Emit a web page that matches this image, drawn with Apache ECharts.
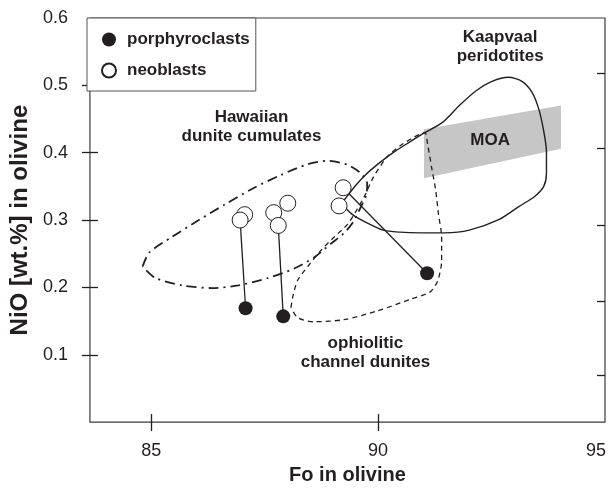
<!DOCTYPE html>
<html><head><meta charset="utf-8">
<script src="https://cdn.jsdelivr.net/npm/echarts@6/dist/echarts.min.js"></script>
<style>html,body{margin:0;padding:0;background:#fff}#c{width:609px;height:490px}</style>
</head><body><div id="c"></div>
<script>
// ---- axis ticks / labels ----
const xTickValues = [85, 90];
const xLabelValues = [85, 90, 95];
const yTickValues = [0.1, 0.2, 0.3, 0.4, 0.5];
const yLabelValues = [0.1, 0.2, 0.3, 0.4, 0.5, 0.6];
const rightTickValues = [0.070, 0.180, 0.293, 0.407, 0.518];

// ---- data points [Fo, NiO] ----
const porphyroclasts = [[87.08, 0.169], [87.91, 0.157], [91.08, 0.221]];
const neoblasts = [[87.06, 0.308], [86.96, 0.300], [87.70, 0.311], [88.01, 0.325], [87.80, 0.292], [89.23, 0.348], [89.14, 0.321]];
// tie lines: [neoblast index, porphyroclast index]
const tiePairs = [[1, 0], [4, 1], [5, 2]];

// ---- field outlines ----
const kaapvaal = [[89.20,0.325],[89.28,0.332],[89.50,0.351],[89.72,0.367],[90.05,0.386],[90.37,0.402],[90.70,0.416],[91.01,0.429],[91.42,0.445],[91.79,0.470],[92.16,0.492],[92.51,0.506],[92.88,0.512],[93.17,0.506],[93.39,0.490],[93.54,0.465],[93.65,0.432],[93.71,0.402],[93.71,0.369],[93.65,0.350],[93.45,0.335],[93.10,0.320],[92.67,0.301],[92.01,0.285],[91.47,0.281],[90.92,0.281],[90.48,0.282],[90.11,0.285],[89.72,0.297],[89.46,0.307],[89.28,0.318]];
const ophiolitic = [[88.08,0.170],[88.13,0.189],[88.23,0.211],[88.45,0.231],[88.74,0.255],[89.02,0.274],[89.33,0.294],[89.54,0.316],[89.72,0.338],[89.89,0.363],[90.20,0.394],[90.48,0.410],[90.79,0.423],[91.03,0.430],[91.09,0.413],[91.18,0.378],[91.27,0.344],[91.33,0.309],[91.40,0.275],[91.40,0.239],[91.31,0.209],[91.14,0.193],[90.70,0.182],[89.98,0.165],[89.24,0.152],[88.58,0.149],[88.23,0.155]];
const hawaiian = [[84.81,0.231],[84.96,0.252],[85.46,0.275],[86.05,0.300],[86.62,0.323],[87.27,0.348],[87.86,0.367],[88.45,0.383],[88.89,0.388],[89.33,0.382],[89.61,0.370],[89.76,0.354],[89.74,0.337],[89.61,0.318],[89.44,0.296],[89.24,0.280],[88.96,0.265],[88.58,0.244],[88.15,0.228],[87.58,0.214],[86.92,0.203],[86.34,0.199],[85.68,0.203],[85.09,0.214]];
const moa = [[91.01,0.435],[94.03,0.470],[94.03,0.406],[91.01,0.362]];

// ---- field names ----
const fieldNames = ['Kaapvaal\nperidotites', 'Hawaiian\ndunite cumulates', 'ophiolitic\nchannel dunites', 'MOA'];
const fieldPos = [[92.69, 0.5576], [87.21, 0.4383], [89.72, 0.1032], [92.47, 0.4185]];

const INK = '#231f20';
const FONT = "'Liberation Sans', Arial, Helvetica, sans-serif";
const closeRing = a => a.concat([a[0]]);
const tieData = tiePairs.map(([n, p]) => ({ coords: [neoblasts[n], porphyroclasts[p]] }));

const chart = echarts.init(document.getElementById('c'));
const tickStyle = { color: INK, width: 1.3 };
const baseX = { type: 'value', min: 83.65, max: 95, position: 'bottom', splitLine: { show: false }, axisLine: { show: false, onZero: false } };
const baseY = { type: 'value', min: 0, max: 0.6, splitLine: { show: false }, axisLine: { show: false, onZero: false } };

chart.setOption({
  animation: false,
  backgroundColor: '#fff',
  textStyle: { fontFamily: FONT },
  grid: { left: 87, top: 18, right: 2, bottom: 62, show: true, borderColor: '#3a3a3a', borderWidth: 1.2, backgroundColor: 'transparent' },
  legend: {
    data: ['porphyroclasts', 'neoblasts'],
    orient: 'vertical', left: 87, top: 18,
    padding: [13, 6, 12, 14], itemGap: 14,
    itemWidth: 14, itemHeight: 14,
    borderColor: '#555', borderWidth: 1, backgroundColor: '#fff',
    textStyle: { fontFamily: FONT, fontSize: 17, fontWeight: 'bold', color: INK, lineHeight: 17, padding: [0, 0, 0, 6] },
    selectedMode: false
  },
  xAxis: [
    Object.assign({}, baseX, {
      axisTick: { show: true, inside: false, length: 9, customValues: xTickValues, lineStyle: tickStyle },
      axisLabel: { customValues: xLabelValues, margin: 20, fontSize: 18, color: INK, fontFamily: FONT,
        formatter: v => v === 95 ? '{r|95}' : String(v), rich: { r: { fontSize: 18, color: INK, fontFamily: FONT, padding: [0, 18, 0, 0] } } },
      name: 'Fo in olivine', nameLocation: 'middle', nameGap: 39,
      nameTextStyle: { fontSize: 20, fontWeight: 'bold', color: INK, fontFamily: FONT }
    }),
    Object.assign({}, baseX, {
      axisTick: { show: true, inside: true, length: 8, customValues: xTickValues, lineStyle: tickStyle },
      axisLabel: { show: false }
    })
  ],
  yAxis: [
    Object.assign({}, baseY, {
      position: 'left',
      axisTick: { show: true, inside: false, length: 8, customValues: yTickValues, lineStyle: tickStyle },
      axisLabel: { customValues: yLabelValues, margin: 22, fontSize: 18, color: INK, fontFamily: FONT, formatter: v => v.toFixed(1) },
      name: 'NiO [wt.%] in olivine', nameLocation: 'middle', nameGap: 57,
      nameTextStyle: { fontSize: 24, fontWeight: 'bold', color: INK, fontFamily: FONT }
    }),
    Object.assign({}, baseY, {
      position: 'left',
      axisTick: { show: true, inside: true, length: 8, customValues: yTickValues, lineStyle: tickStyle },
      axisLabel: { show: false }
    }),
    Object.assign({}, baseY, {
      position: 'right',
      axisTick: { show: true, inside: true, length: 8, customValues: rightTickValues, lineStyle: tickStyle },
      axisLabel: { show: false }
    })
  ],
  series: [
    {
      type: 'custom', silent: true, z: 1,
      data: moa,
      encode: { x: 0, y: 1 },
      renderItem: (params, api) => {
        if (params.dataIndex !== 0) return null;
        return { type: 'polygon', shape: { points: moa.map(p => api.coord(p)) }, style: { fill: '#c6c6c6' } };
      }
    },
    { type: 'line', silent: true, z: 2, data: closeRing(kaapvaal), symbol: 'none', smooth: 0.25,
      lineStyle: { color: INK, width: 1.4, type: 'solid' } },
    { type: 'line', silent: true, z: 2, data: closeRing(ophiolitic), symbol: 'none', smooth: 0.25,
      lineStyle: { color: INK, width: 1.3, type: [5, 4] } },
    { type: 'line', silent: true, z: 2, data: closeRing(hawaiian), symbol: 'none', smooth: 0.25,
      lineStyle: { color: INK, width: 1.8, type: [10, 5, 2, 5] } },
    { type: 'lines', coordinateSystem: 'cartesian2d', silent: true, z: 3, data: tieData,
      lineStyle: { color: INK, width: 1.3, opacity: 1 } },
    { name: 'neoblasts', type: 'scatter', z: 4, data: neoblasts, symbol: 'circle', symbolSize: 16,
      itemStyle: { color: '#fff', borderColor: INK, borderWidth: 1, opacity: 1 } },
    { name: 'porphyroclasts', type: 'scatter', z: 5, data: porphyroclasts, symbol: 'circle', symbolSize: 14,
      itemStyle: { color: INK, opacity: 1 } },
    { type: 'scatter', silent: true, z: 6, symbolSize: 1, itemStyle: { color: 'rgba(0,0,0,0)' },
      data: fieldNames.map((n, i) => ({ name: n, value: fieldPos[i] })),
      label: { show: true, position: 'inside', formatter: '{b}', fontFamily: FONT, fontSize: 17, fontWeight: 'bold',
        color: INK, opacity: 1, textBorderWidth: 0, textBorderColor: 'transparent', lineHeight: 19, align: 'center', verticalAlign: 'middle' } }
  ]
});
</script>
</body></html>
